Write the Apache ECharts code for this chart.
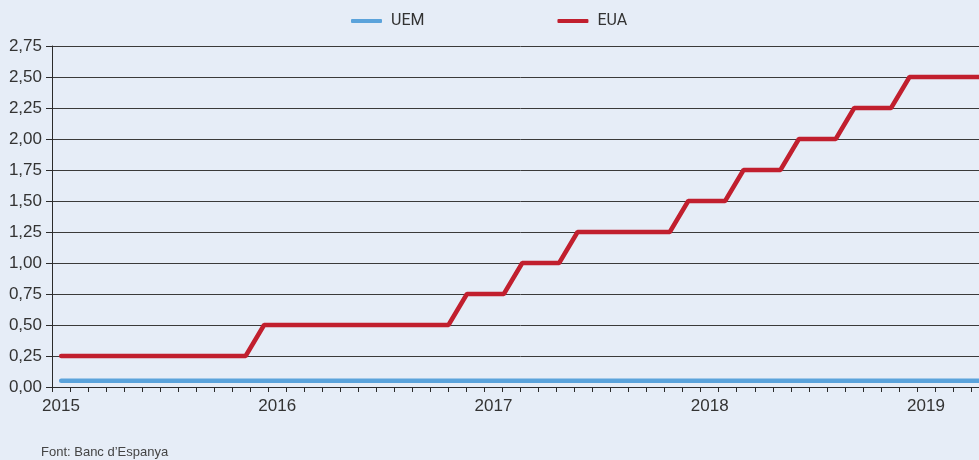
<!DOCTYPE html>
<html>
<head>
<meta charset="utf-8">
<script src="https://cdn.jsdelivr.net/npm/echarts@6/dist/echarts.min.js"></script>
<style>
  html, body { margin: 0; padding: 0; background: #e6edf7; overflow: hidden; }
  #chart { width: 989px; height: 460px; }
</style>
</head>
<body>
<div id="chart"></div>
<script>
// month bands on the x axis (ticks), year labels on January
const years = ['2015', '2016', '2017', '2018', '2019']
const months = []
years.forEach(y => {
  for (let m = 1; m <= 12; m++) months.push(y + '-' + (m < 10 ? '0' + m : m))
})
const monthBands = months.slice(0, 52)

// policy rates, one reading per observation
const uem = [
  0.05, 0.05, 0.05, 0.05, 0.05, 0.05, 0.05, 0.05, 0.05, 0.05, 0.05,
  0.05, 0.05, 0.05, 0.05, 0.05, 0.05, 0.05, 0.05, 0.05, 0.05, 0.05,
  0.05, 0.05, 0.05, 0.05, 0.05, 0.05, 0.05, 0.05, 0.05, 0.05, 0.05,
  0.05, 0.05, 0.05, 0.05, 0.05, 0.05, 0.05, 0.05, 0.05, 0.05, 0.05,
  0.05, 0.05, 0.05, 0.05, 0.05, 0.05, 0.05
]
const eua = [
  0.25, 0.25, 0.25, 0.25, 0.25, 0.25, 0.25, 0.25, 0.25, 0.25, 0.25,
  0.50, 0.50, 0.50, 0.50, 0.50, 0.50, 0.50, 0.50, 0.50, 0.50, 0.50,
  0.75, 0.75, 0.75,
  1.00, 1.00, 1.00,
  1.25, 1.25, 1.25, 1.25, 1.25, 1.25,
  1.50, 1.50, 1.50,
  1.75, 1.75, 1.75,
  2.00, 2.00, 2.00,
  2.25, 2.25, 2.25,
  2.50, 2.50, 2.50, 2.50, 2.50
]

const textColor = '#333'
const lineColor = '#2b2b2b'

const chart = echarts.init(document.getElementById('chart'))
chart.setOption({
  backgroundColor: '#e6edf7',
  animation: false,
  title: {
    text: 'Font: Banc d’Espanya',
    left: 36,
    top: 441,
    textStyle: {
      fontSize: 13,
      fontWeight: 'normal',
      color: '#444',
      fontFamily: 'Liberation Sans'
    }
  },
  legend: {
    data: ['UEM', 'EUA'],
    top: 8,
    left: 346,
    icon: 'roundRect',
    itemWidth: 31,
    itemHeight: 4,
    itemGap: 133,
    textStyle: {
      fontSize: 16,
      color: textColor,
      fontFamily: 'Roboto',
      padding: [0, 0, 0, 4]
    }
  },
  grid: {
    left: 52,
    top: 46,
    right: 0,
    height: 341,
    outerBoundsMode: 'none'
  },
  xAxis: [
    {
      type: 'category',
      data: monthBands,
      boundaryGap: true,
      axisLine: { lineStyle: { color: lineColor, width: 1 } },
      axisTick: { show: true, interval: 0, length: 5, lineStyle: { color: lineColor } },
      axisLabel: {
        interval: (i) => i % 12 === 0,
        formatter: (v) => v.slice(0, 4),
        margin: 11,
        fontSize: 17,
        color: textColor,
        fontFamily: 'Liberation Sans'
      },
      splitLine: { show: false }
    },
    {
      type: 'value',
      min: -0.5,
      max: 50.31,
      show: false
    }
  ],
  yAxis: {
    type: 'value',
    min: 0,
    max: 2.75,
    interval: 0.25,
    axisLine: { show: true, onZero: false, lineStyle: { color: lineColor, width: 1 } },
    axisTick: { show: true, length: 6, lineStyle: { color: lineColor } },
    axisLabel: {
      formatter: (v) => v.toFixed(2).replace('.', ','),
      margin: 10,
      fontSize: 17,
      color: textColor,
      fontFamily: 'Liberation Sans'
    },
    splitLine: { lineStyle: { color: '#3a3a3a', width: 1 } }
  },
  series: [
    {
      name: 'UEM',
      type: 'line',
      xAxisIndex: 1,
      data: uem.map((v, k) => [k, v]),
      showSymbol: false,
      color: '#5ba3db',
      lineStyle: { width: 4.5, color: '#5ba3db', cap: 'round' }
    },
    {
      name: 'EUA',
      type: 'line',
      xAxisIndex: 1,
      data: eua.map((v, k) => [k, v]),
      showSymbol: false,
      color: '#c11f2e',
      lineStyle: { width: 4.5, color: '#c11f2e', cap: 'round' }
    }
  ]
})
</script>
</body>
</html>
